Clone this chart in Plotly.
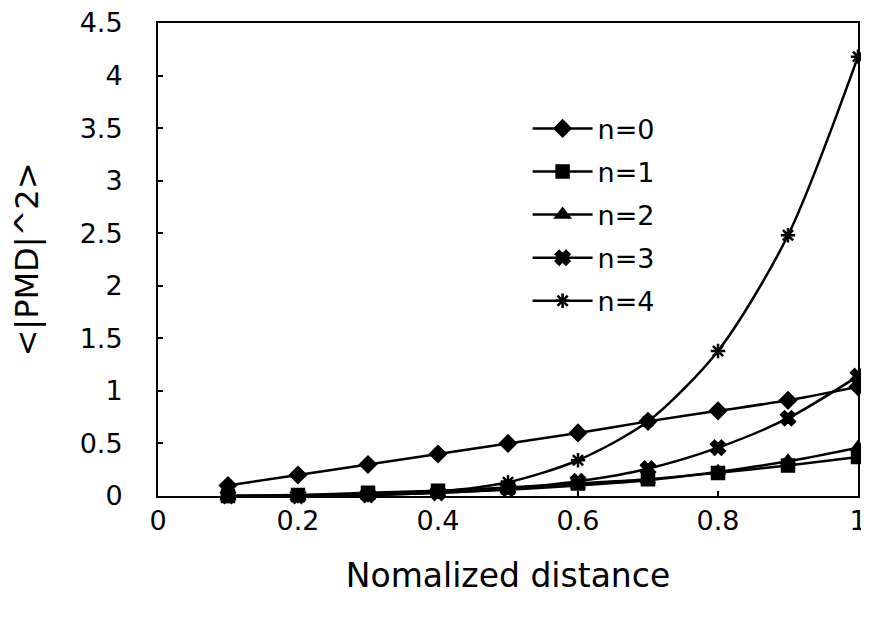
import plotly.graph_objects as go

distance = [0.1, 0.2, 0.3, 0.4, 0.5, 0.6, 0.7, 0.8, 0.9, 1.0]
n0 = [0.10, 0.20, 0.30, 0.40, 0.50, 0.60, 0.71, 0.81, 0.91, 1.04]
n1 = [0.00, 0.01, 0.03, 0.05, 0.08, 0.12, 0.16, 0.22, 0.29, 0.37]
n2 = [0.00, 0.00, 0.01, 0.03, 0.06, 0.10, 0.15, 0.23, 0.33, 0.46]
n3 = [0.00, 0.00, 0.01, 0.03, 0.07, 0.14, 0.26, 0.46, 0.74, 1.14]
n4 = [0.00, 0.00, 0.01, 0.04, 0.13, 0.34, 0.71, 1.38, 2.48, 4.18]

series = [
    ("n=0", n0, "diamond"),
    ("n=1", n1, "square"),
    ("n=2", n2, "triangle-up"),
    ("n=3", n3, "x"),
    ("n=4", n4, "asterisk"),
]

FONT = "DejaVu Sans, Arial, sans-serif"

fig = go.Figure()
for i, (name, vals, sym) in enumerate(series):
    fig.add_trace(go.Scatter(
        x=distance, y=vals, name=name, mode="lines+markers",
        line=dict(color="black", width=2.5, shape="spline", smoothing=0.8),
        marker=dict(symbol=sym, size=12, color="black",
                    line=dict(color="black", width=2.5)),
        legendgroup=name,
        cliponaxis=False,
    ))

# page body has an 8px margin, so the figure is sized to fit the window
fig.update_layout(
    width=861, height=601,
    margin=dict(l=150, r=11, t=15, b=113, autoexpand=False),
    paper_bgcolor="white", plot_bgcolor="white",
    font=dict(family=FONT, color="black", size=27),
    showlegend=True,
    legend=dict(
        x=0.528, y=0.828, xanchor="left", yanchor="top",
        bgcolor="rgba(0,0,0,0)", font=dict(size=27),
        tracegroupgap=5, itemwidth=60,
    ),
)
fig.update_xaxes(
    range=[0, 1], dtick=0.2, tick0=0, automargin=False,
    showline=True, mirror=True, linecolor="black", linewidth=2,
    showgrid=False, zeroline=False,
    ticks="inside", ticklen=5, tickwidth=1.5, tickcolor="black",
    tickfont=dict(size=27), ticklabelstandoff=0, ticklabeloverflow="allow",
    title=dict(text="Nomalized distance", font=dict(size=33), standoff=28),
)
fig.update_yaxes(
    range=[0, 4.5], dtick=0.5, tick0=0, automargin=False,
    showline=True, mirror=True, linecolor="black", linewidth=2,
    showgrid=False, zeroline=False,
    ticks="inside", ticklen=5, tickwidth=1.5, tickcolor="black",
    tickfont=dict(size=27), ticklabelstandoff=28, ticklabeloverflow="allow",
    title=dict(text="<|PMD|^2>", font=dict(size=32), standoff=32),
)

fig.write_html("out.html")
